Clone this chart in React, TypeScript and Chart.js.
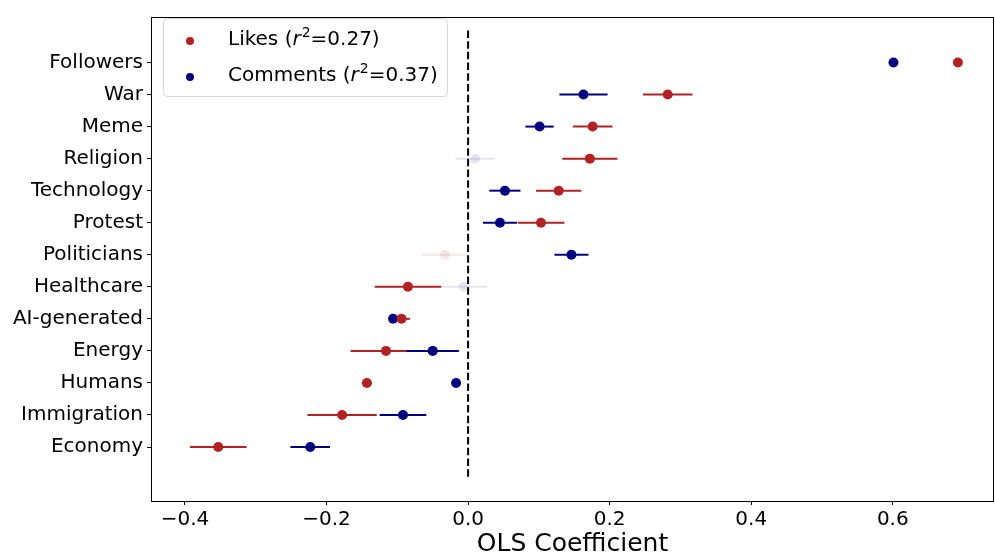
import React, { useEffect, useRef } from "react";
import { Chart, registerables } from "chart.js";

Chart.register(...registerables);

const categories = [
  "Economy", "Immigration", "Humans", "Energy", "AI-generated", "Healthcare",
  "Politicians", "Protest", "Technology", "Religion", "Meme", "War", "Followers",
];
const likesCoef = [-0.353, -0.178, -0.143, -0.116, -0.094, -0.085, -0.033, 0.103, 0.128, 0.172, 0.176, 0.282, 0.692];
const likesErr = [0.04, 0.049, 0.007, 0.05, 0.012, 0.047, 0.033, 0.033, 0.032, 0.039, 0.028, 0.035, 0.0];
const likesSig = [true, true, true, true, true, true, false, true, true, true, true, true, true];
const commentsCoef = [-0.223, -0.092, -0.017, -0.05, -0.106, -0.006, 0.146, 0.045, 0.052, 0.01, 0.101, 0.163, 0.601];
const commentsErr = [0.028, 0.033, 0.003, 0.037, 0.005, 0.033, 0.024, 0.024, 0.022, 0.028, 0.02, 0.034, 0.0];
const commentsSig = [true, true, true, true, true, false, true, true, true, false, true, true, true];
const xTicks = [-0.4, -0.2, 0.0, 0.2, 0.4, 0.6];
const likesLabel = ["Likes (", "=0.27)"];
const commentsLabel = ["Comments (", "=0.37)"];

const LIKES_RGB = "178,34,34";
const COMM_RGB = "0,0,128";
const FONT = "'DejaVu Sans', sans-serif";

function colorArr(rgb: string, sig: boolean[]) {
  return sig.map((s) => `rgba(${rgb},${s ? 1 : 0.1})`);
}

export default function App() {
  const ref = useRef<HTMLCanvasElement | null>(null);
  useEffect(() => {
    document.body.style.margin = "0";
    const canvas = ref.current!;
    const errPlugin = {
      id: "errbars",
      beforeDatasetsDraw(chart: any) {
        const { ctx, scales } = chart;
        const xs = scales.x, ys = scales.y;
        const series = [
          { c: likesCoef, e: likesErr, s: likesSig, rgb: LIKES_RGB },
          { c: commentsCoef, e: commentsErr, s: commentsSig, rgb: COMM_RGB },
        ];
        ctx.save();
        ctx.lineWidth = 2;
        series.forEach((se) => {
          se.c.forEach((v, i) => {
            if (se.e[i] <= 0) return;
            const y = ys.getPixelForValue(i);
            ctx.strokeStyle = `rgba(${se.rgb},${se.s[i] ? 1 : 0.1})`;
            ctx.beginPath();
            ctx.moveTo(xs.getPixelForValue(v - se.e[i]), y);
            ctx.lineTo(xs.getPixelForValue(v + se.e[i]), y);
            ctx.stroke();
          });
        });
        // dashed zero line
        ctx.strokeStyle = "#000";
        ctx.lineWidth = 2;
        ctx.setLineDash([7.5, 3.2]);
        ctx.beginPath();
        ctx.moveTo(xs.getPixelForValue(0), ys.getPixelForValue(13));
        ctx.lineTo(xs.getPixelForValue(0), ys.getPixelForValue(-1));
        ctx.stroke();
        ctx.restore();
      },
      afterDraw(chart: any) {
        const { ctx, chartArea: a } = chart;
        ctx.save();
        ctx.strokeStyle = "#000";
        ctx.lineWidth = 1;
        ctx.strokeRect(Math.round(a.left) + 0.5, Math.round(a.top) + 0.5, Math.round(a.right - a.left) - 1, Math.round(a.bottom - a.top));
        // legend
        const lx = a.left + 12, ly = a.top + 1, lw = 284, lh = 78;
        ctx.fillStyle = "rgba(255,255,255,0.8)";
        ctx.strokeStyle = "#d6d6d6";
        ctx.lineWidth = 1;
        ctx.beginPath();
        (ctx as any).roundRect(lx + 0.5, ly + 0.5, lw, lh, 4);
        ctx.fill();
        ctx.stroke();
        const items = [
          { rgb: LIKES_RGB, t: likesLabel, y: ly + 22 },
          { rgb: COMM_RGB, t: commentsLabel, y: ly + 58 },
        ];
        items.forEach((it) => {
          ctx.fillStyle = `rgb(${it.rgb})`;
          ctx.beginPath();
          ctx.arc(lx + 27, it.y + 1, 4, 0, Math.PI * 2);
          ctx.fill();
          ctx.fillStyle = "#000";
          ctx.textBaseline = "middle";
          ctx.textAlign = "left";
          let x = lx + 65;
          ctx.font = `20px ${FONT}`;
          ctx.fillText(it.t[0], x, it.y);
          x += ctx.measureText(it.t[0]).width;
          ctx.font = `italic 20px ${FONT}`;
          ctx.fillText("r", x, it.y);
          x += ctx.measureText("r").width + 1;
          ctx.font = `14px ${FONT}`;
          ctx.fillText("2", x, it.y - 7);
          x += ctx.measureText("2").width;
          ctx.font = `20px ${FONT}`;
          ctx.fillText(it.t[1], x, it.y);
        });
        ctx.restore();
      },
    };

    const chart = new Chart(canvas, {
      type: "scatter",
      data: {
        datasets: [
          {
            label: "Likes",
            data: likesCoef.map((v, i) => ({ x: v, y: i })),
            backgroundColor: colorArr(LIKES_RGB, likesSig),
            borderColor: colorArr(LIKES_RGB, likesSig),
            pointRadius: 5,
            borderWidth: 0,
          },
          {
            label: "Comments",
            data: commentsCoef.map((v, i) => ({ x: v, y: i })),
            backgroundColor: colorArr(COMM_RGB, commentsSig),
            borderColor: colorArr(COMM_RGB, commentsSig),
            pointRadius: 5,
            borderWidth: 0,
          },
        ],
      },
      options: {
        animation: false,
        responsive: false,
        devicePixelRatio: 1,
        layout: { autoPadding: false, padding: { top: 17, right: 1, left: 0, bottom: 0 } },
        plugins: { legend: { display: false }, tooltip: { enabled: false } },
        scales: {
          x: {
            type: "linear",
            min: -0.448,
            max: 0.743,
            afterBuildTicks: (s: any) => { s.ticks = xTicks.map((v) => ({ value: v })); },
            afterFit: (s: any) => { s.height = 58; s.paddingLeft = 0; s.paddingRight = 0; },
            grid: { display: true, drawOnChartArea: false, drawTicks: true, tickLength: 4, color: "#000" },
            border: { display: false },
            ticks: {
              color: "#000",
              font: { family: FONT, size: 20 },
              padding: 3,
              maxRotation: 0,
              callback: (v: any) => {
                const n = Number(v);
                return (n < 0 ? "\u2212" : "") + Math.abs(n).toFixed(1);
              },
            },
            title: {
              display: true,
              text: "OLS Coefficient",
              color: "#000",
              font: { family: FONT, size: 25 },
              padding: { top: 2, bottom: 0 },
            },
          },
          y: {
            type: "linear",
            min: -1.685,
            max: 13.42,
            afterBuildTicks: (s: any) => { s.ticks = categories.map((_, i) => ({ value: i })); },
            afterFit: (s: any) => { s.width = 151; s.paddingTop = 0; s.paddingBottom = 0; },
            grid: { display: true, drawOnChartArea: false, drawTicks: true, tickLength: 4, color: "#000" },
            border: { display: false },
            ticks: {
              color: "#000",
              font: { family: FONT, size: 20 },
              padding: 4,
              callback: (v: any) => categories[Math.round(Number(v))] ?? "",
            },
          },
        },
      },
      plugins: [errPlugin],
    } as any);
    return () => chart.destroy();
  }, []);
  return (
    <div style={{ width: 995, height: 559 }}>
      <canvas ref={ref} width={995} height={559} style={{ display: "block" }} />
    </div>
  );
}
